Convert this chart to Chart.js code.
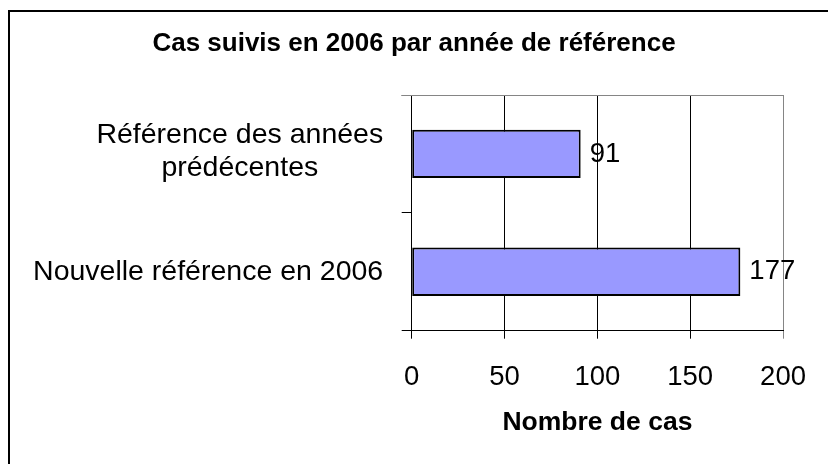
<!DOCTYPE html>
<html>
<head>
<meta charset="utf-8">
<script src="https://cdn.jsdelivr.net/npm/chart.js@4/dist/chart.umd.min.js"></script>
<style>
  html, body { margin: 0; padding: 0; background: #ffffff; }
  #wrap { width: 828px; height: 464px; }
</style>
</head>
<body>
<div id="wrap"><canvas id="c" width="828" height="464"></canvas></div>
<script>
const chartTitle = "Cas suivis en 2006 par année de référence";
const axisTitle = "Nombre de cas";
const categories = [["Référence des années", "prédécentes"], "Nouvelle référence en 2006"];
const values = [91, 177];
const xTicks = [0, 50, 100, 150, 200];

const FONT = "'Liberation Sans', Arial, Helvetica, sans-serif";
Chart.defaults.font.family = FONT;
Chart.defaults.color = '#000000';

const GRAY = '#858585';

const framePlugin = {
  id: 'frame',
  beforeDraw(chart) {
    const ctx = chart.ctx;
    ctx.save();
    ctx.fillStyle = '#ffffff';
    ctx.fillRect(0, 0, chart.width, chart.height);
    ctx.fillStyle = '#000000';
    ctx.fillRect(8, 10, chart.width - 8, 2);
    ctx.fillRect(8, 10, 2, chart.height - 10);
    ctx.restore();
  },
  afterDraw(chart) {
    const ctx = chart.ctx;
    const a = chart.chartArea;
    const top = Math.round(a.top - 0.5) + 0.5;
    ctx.save();
    ctx.strokeStyle = GRAY;
    ctx.lineWidth = 1;
    ctx.beginPath();
    ctx.moveTo(a.left - 10, top);
    ctx.lineTo(Math.round(a.right - 0.5) + 0.5, top);
    ctx.stroke();
    ctx.restore();
  }
};

const catLabelPlugin = {
  id: 'catLabels',
  afterDraw(chart) {
    const ctx = chart.ctx;
    const ys = chart.scales.y;
    const size = 28.5, lineH = 33;
    ctx.save();
    ctx.font = size + 'px ' + FONT;
    ctx.fillStyle = '#000000';
    ctx.textAlign = 'center';
    ctx.textBaseline = 'middle';
    const rightX = ys.right - 28.5;
    categories.forEach((cat, i) => {
      const lines = Array.isArray(cat) ? cat : [cat];
      const maxW = Math.max(...lines.map(l => ctx.measureText(l).width));
      const cx = rightX - maxW / 2;
      const yc = ys.getPixelForValue(i) - (lines.length - 1) * 2;
      lines.forEach((l, k) => {
        ctx.fillText(l, cx, yc - (lines.length - 1) * lineH / 2 + k * lineH);
      });
    });
    ctx.restore();
  }
};

const valueLabelPlugin = {
  id: 'valueLabels',
  afterDatasetsDraw(chart) {
    const ctx = chart.ctx;
    const meta = chart.getDatasetMeta(0);
    ctx.save();
    ctx.font = '27.5px ' + FONT;
    ctx.fillStyle = '#000000';
    ctx.textAlign = 'left';
    ctx.textBaseline = 'middle';
    meta.data.forEach((el, i) => {
      ctx.fillText(String(values[i]), el.x + 9, el.y);
    });
    ctx.restore();
  }
};

new Chart(document.getElementById('c'), {
  type: 'bar',
  data: {
    labels: categories,
    datasets: [{
      data: values,
      backgroundColor: '#9999FF',
      borderColor: '#000000',
      borderWidth: 2,
      borderSkipped: false,
      barPercentage: 0.41,
      categoryPercentage: 1.0,
      yAxisID: 'y'
    }]
  },
  options: {
    indexAxis: 'y',
    responsive: false,
    animation: false,
    devicePixelRatio: 1,
    layout: { padding: 0 },
    plugins: {
      legend: { display: false },
      tooltip: { enabled: false },
      title: {
        display: true,
        text: chartTitle,
        color: '#000000',
        font: { family: FONT, size: 26, weight: 'bold' },
        padding: { top: 28.4, bottom: 35.4 }
      }
    },
    scales: {
      x: {
        type: 'linear',
        position: 'bottom',
        min: xTicks[0],
        max: xTicks[xTicks.length - 1],
        afterBuildTicks(scale) { scale.ticks = xTicks.map(v => ({ value: v })); },
        afterFit(scale) { scale.height = 133.3; },
        grid: {
          color: (c) => (c.tick && c.tick.value === xTicks[xTicks.length - 1]) ? GRAY : '#000000',
          lineWidth: 1,
          drawTicks: true,
          tickLength: 8,
          drawOnChartArea: true
        },
        border: { display: true, color: '#000000', width: 1 },
        ticks: {
          autoSkip: false,
          maxRotation: 0,
          padding: 22,
          color: '#000000',
          font: { family: FONT, size: 27.5 }
        },
        title: {
          display: true,
          text: axisTitle,
          color: '#000000',
          font: { family: FONT, size: 26.5, weight: 'bold' },
          padding: { top: 0, bottom: 25 }
        }
      },
      y: {
        type: 'category',
        position: 'left',
        offset: true,
        afterFit(scale) { scale.width = 411.7; },
        grid: {
          display: true,
          offset: true,
          drawOnChartArea: false,
          drawTicks: true,
          tickLength: 10,
          color: '#000000',
          lineWidth: 1
        },
        border: { display: true, color: '#000000', width: 1 },
        ticks: { display: false }
      },
      y2: {
        type: 'category',
        position: 'right',
        display: true,
        afterFit(scale) { scale.width = 40.7; },
        grid: { display: false, drawTicks: false },
        border: { display: false },
        ticks: { display: false }
      }
    }
  },
  plugins: [framePlugin, valueLabelPlugin, catLabelPlugin]
});
</script>
</body>
</html>
